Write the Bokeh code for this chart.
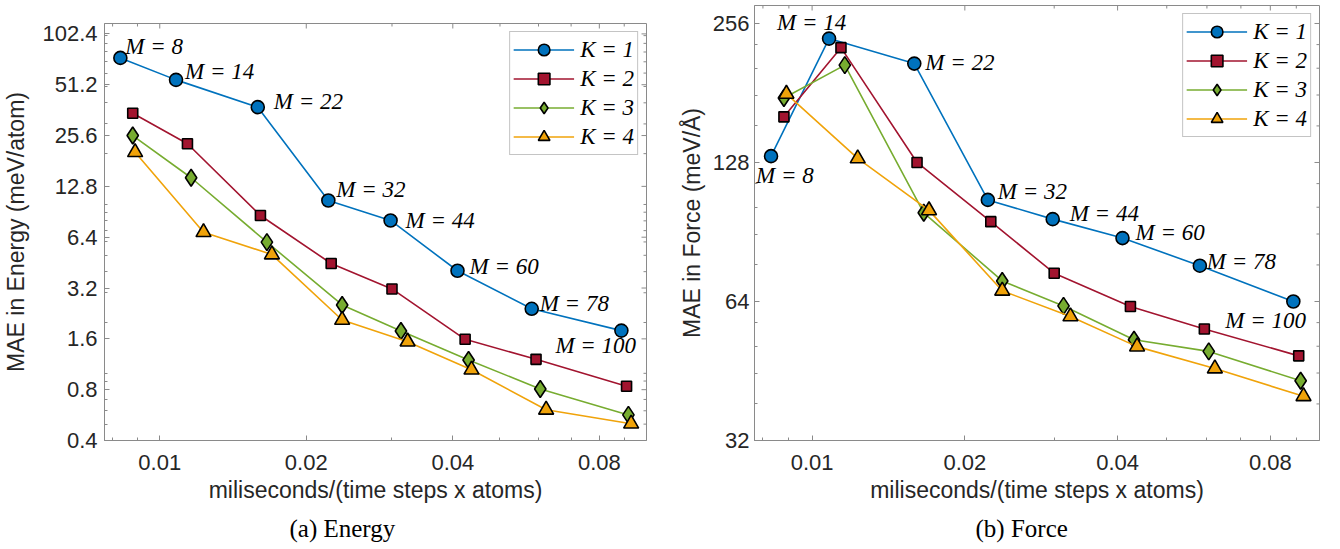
import math
from bokeh.plotting import figure
from bokeh.models import (FixedTicker, PrintfTickFormatter, Range1d,
                          Legend, LegendItem, Title, ColumnDataSource)
from bokeh.layouts import row, column
from bokeh.embed import file_html
from bokeh.resources import INLINE
from bokeh.core.properties import value

# ---------------- data ----------------
K_LABELS = ["K = 1", "K = 2", "K = 3", "K = 4"]
M_LABELS = ["M = 8", "M = 14", "M = 22", "M = 32", "M = 44", "M = 60", "M = 78", "M = 100"]

# miliseconds/(time steps x atoms) per K
TIME_K1 = [0.0083, 0.0108, 0.0159, 0.0222, 0.0298, 0.0409, 0.0581, 0.0888]
TIME_K2 = [0.0088, 0.0114, 0.0161, 0.0225, 0.0300, 0.0424, 0.0593, 0.0910]
TIME_K3 = [0.0088, 0.0116, 0.0166, 0.0237, 0.0313, 0.0431, 0.0605, 0.0918]
TIME_K4 = [0.0089, 0.0123, 0.0170, 0.0237, 0.0323, 0.0437, 0.0622, 0.0930]

# MAE in Energy (meV/atom)
ENERGY_K1 = [73.8, 54.7, 37.7, 10.56, 8.04, 4.05, 2.41, 1.79]
ENERGY_K2 = [34.7, 22.9, 8.6, 4.47, 3.16, 1.59, 1.21, 0.838]
ENERGY_K3 = [25.6, 14.4, 5.98, 2.54, 1.78, 1.20, 0.807, 0.567]
ENERGY_K4 = [20.4, 6.85, 5.05, 2.07, 1.54, 1.05, 0.608, 0.503]

# MAE in Force (meV/Å)
FORCE_K1 = [132.1, 237.4, 209.6, 106.2, 96.5, 87.8, 76.5, 64.0]
FORCE_K2 = [160.7, 226.9, 128.0, 95.3, 73.7, 62.4, 55.8, 48.8]
FORCE_K3 = [176.6, 208.0, 99.6, 70.9, 62.6, 52.9, 49.9, 43.1]
FORCE_K4 = [180.2, 130.6, 100.8, 67.5, 59.4, 51.1, 45.8, 39.9]

X_TICKS = [0.01, 0.02, 0.04, 0.08]
X_MINOR = [0.008, 0.009, 0.03, 0.05, 0.06, 0.07, 0.09]
E_TICKS = [0.4, 0.8, 1.6, 3.2, 6.4, 12.8, 25.6, 51.2, 102.4]
E_MINOR = [0.5, 0.6, 0.7, 0.9, 1, 2, 3, 4, 5, 6, 7, 8, 9, 10, 20, 30, 40, 50, 60, 70, 80, 90, 100]
F_TICKS = [32, 64, 128, 256]
F_MINOR = [38.4, 44.8, 51.2, 57.6, 76.8, 89.6, 102.4, 115.2, 153.6, 179.2, 204.8, 230.4]

# ---------------- styling / layout ----------------
X_LIMITS = (0.0077, 0.1)
E_LIMITS = (0.4, 118)
F_LIMITS = (32, 280)
COLORS = ["#0072BD", "#A2142F", "#77AC30", "#F0A30A"]
MARKERS = ["circle", "square", "diamond", "triangle"]
MSIZES = [13, 10, 17, 15]
GRAY = "#8a8a8a"
TXT = "#262626"

# label offsets in screen pixels (dx, dy) for the M annotations
E_LABEL_DX = [5, 9, 16, 8, 15, 12, 8, -66]
E_LABEL_DY = [-11, -8, -6, -11, 0, -4, -5, 15]
F_LABEL_DX = [-15, -52, 11, 10, 17, 13, 7, -68]
F_LABEL_DY = [19, -16, -1, -8, -6, -6, -4, 19]


def style_axis(ax, standoff, label_standoff):
    ax.axis_line_color = GRAY
    ax.major_tick_in = 5
    ax.major_tick_out = 0
    ax.minor_tick_in = 3
    ax.minor_tick_out = 0
    ax.major_tick_line_color = GRAY
    ax.minor_tick_line_color = GRAY
    ax.major_label_text_font = "Liberation Sans"
    ax.major_label_text_font_size = "22px"
    ax.major_label_text_color = TXT
    ax.major_label_standoff = standoff
    ax.axis_label_text_font = "Liberation Sans"
    ax.axis_label_text_font_size = "23px"
    ax.axis_label_text_font_style = "normal"
    ax.axis_label_text_color = TXT
    ax.axis_label_standoff = label_standoff


def mirror_ticks(p, y_hi, y_ticks, y_minor):
    # ticks on the top and right edges (box-style axes), half clipped by the frame
    x_hi = X_LIMITS[1]
    p.scatter(X_TICKS, [y_hi] * len(X_TICKS), marker="dash", angle=math.pi / 2,
              size=10, line_color=GRAY, line_width=1)
    p.scatter(X_MINOR, [y_hi] * len(X_MINOR), marker="dash", angle=math.pi / 2,
              size=6, line_color=GRAY, line_width=1)
    p.scatter([x_hi] * len(y_ticks), y_ticks, marker="dash", size=10,
              line_color=GRAY, line_width=1)
    p.scatter([x_hi] * len(y_minor), y_minor, marker="dash", size=6,
              line_color=GRAY, line_width=1)


def make_panel(times, values, y_limits, y_ticks, y_minor, y_fmt, y_label,
               label_dx, label_dy, caption, cap_offset,
               width, b_left, b_right, b_top, y_std, y_lab_std):
    p = figure(width=width, height=549, x_axis_type="log", y_axis_type="log",
               x_range=Range1d(*X_LIMITS), y_range=Range1d(*y_limits),
               output_backend="svg", toolbar_location=None, title_location=None,
               min_border_left=b_left, min_border_right=b_right,
               min_border_top=b_top, min_border_bottom=109)
    try:
        p.frame_align = False
    except Exception:
        pass
    p.xgrid.visible = False
    p.ygrid.visible = False
    p.outline_line_color = GRAY
    p.outline_line_width = 1
    p.background_fill_color = "white"

    xa = p.xaxis[0]
    ya = p.yaxis[0]
    xa.ticker = FixedTicker(ticks=X_TICKS, minor_ticks=X_MINOR)
    xa.formatter = PrintfTickFormatter(format="%.2f")
    xa.axis_label = "miliseconds/(time steps x atoms)"
    style_axis(xa, 14, 4)
    ya.ticker = FixedTicker(ticks=y_ticks, minor_ticks=y_minor)
    ya.formatter = PrintfTickFormatter(format=y_fmt)
    ya.axis_label = y_label
    style_axis(ya, y_std, y_lab_std)

    mirror_ticks(p, y_limits[1], y_ticks, y_minor)

    items = []
    for k in range(4):
        lr = p.line(times[k], values[k], line_color=COLORS[k], line_width=1.6)
        sr = p.scatter(times[k], values[k], marker=MARKERS[k], size=MSIZES[k],
                       fill_color=COLORS[k], line_color="black", line_width=1.6)
        items.append(LegendItem(label=K_LABELS[k], renderers=[lr, sr]))

    src = ColumnDataSource(dict(x=times[0], y=values[0], text=M_LABELS,
                                dx=label_dx, dy=label_dy))
    p.text(x="x", y="y", text="text", x_offset="dx", y_offset="dy", source=src,
           text_font=value("Liberation Serif"), text_font_style="italic",
           text_font_size="23px", text_align="left", text_baseline="middle",
           text_color="black")

    leg = Legend(items=items, location="top_right")
    leg.margin = 8
    leg.padding = 3
    leg.spacing = -4
    leg.glyph_width = 61
    leg.glyph_height = 29
    leg.label_height = 29
    leg.label_standoff = 6
    leg.label_text_font = "Liberation Serif"
    leg.label_text_font_style = "italic"
    leg.label_text_font_size = "23px"
    leg.label_text_color = "black"
    leg.border_line_color = GRAY
    leg.border_line_width = 1
    leg.background_fill_color = "white"
    leg.background_fill_alpha = 1
    p.add_layout(leg)

    cap = Title(text=caption, align="left", offset=cap_offset, standoff=15,
                text_font="Liberation Serif", text_font_size="25px",
                text_font_style="normal", text_color="black")
    p.add_layout(cap, "below")
    return p


p1 = make_panel([TIME_K1, TIME_K2, TIME_K3, TIME_K4],
                [ENERGY_K1, ENERGY_K2, ENERGY_K3, ENERGY_K4],
                E_LIMITS, E_TICKS, E_MINOR, "%.1f", "MAE in Energy (meV/atom)",
                E_LABEL_DX, E_LABEL_DY, "(a) Energy", 185,
                670, 102, 24, 23, 7, 10)
p2 = make_panel([TIME_K1, TIME_K2, TIME_K3, TIME_K4],
                [FORCE_K1, FORCE_K2, FORCE_K3, FORCE_K4],
                F_LIMITS, F_TICKS, F_MINOR, "%d", "MAE in Force (meV/Å)",
                F_LABEL_DX, F_LABEL_DY, "(b) Force", 221,
                670, 84, 21, 5, 5, 5)

layout = row(column(p1), column(p2))
open("out.html", "w").write(file_html(layout, INLINE))
